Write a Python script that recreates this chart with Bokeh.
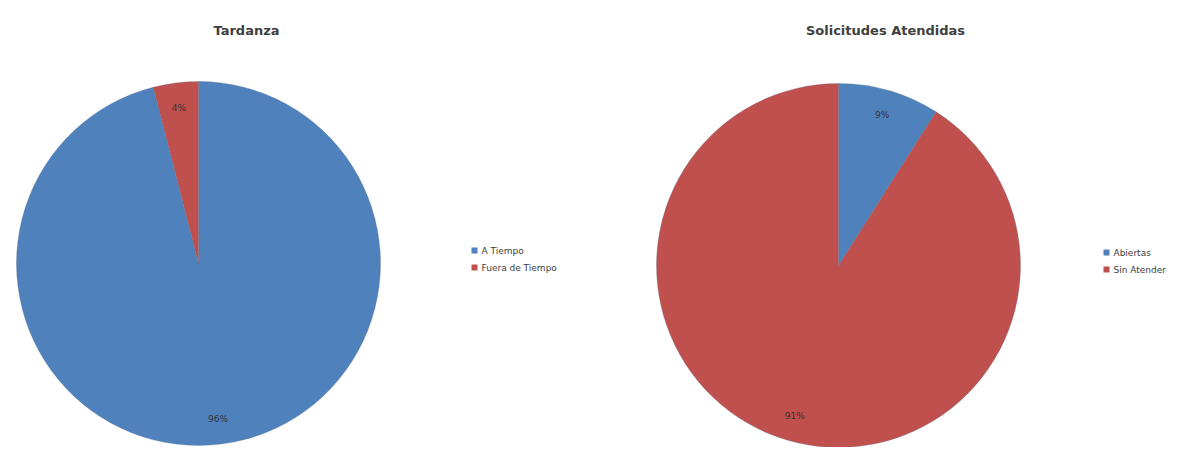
import math
from bokeh.plotting import figure
from bokeh.models import Range1d, ColumnDataSource
from bokeh.core.properties import value
from bokeh.embed import file_html
from bokeh.resources import INLINE

# ---- data ----
titles = ["Tardanza", "Solicitudes Atendidas"]
left_categories = ["A Tiempo", "Fuera de Tiempo"]
left_values = [96, 4]
right_categories = ["Abiertas", "Sin Atender"]
right_values = [9, 91]
colors = ["#4F81BD", "#C0504D"]

W, H = 1181, 447

def X(px):
    return px

def Y(py):
    return H - py

p = figure(width=W, height=H, output_backend="svg", toolbar_location=None,
           x_range=Range1d(0, W), y_range=Range1d(0, H),
           x_axis_location=None, y_axis_location=None, min_border=0)
p.outline_line_color = None
p.xgrid.visible = False
p.ygrid.visible = False
p.background_fill_color = "white"

FONT = value("DejaVu Sans")

def pie(cx, cy, r, cats, vals, title, tx, ty, lx, ly):
    total = float(sum(vals))
    start = 90.0
    starts, ends, lab_x, lab_y, labs = [], [], [], [], []
    for v in vals:
        sweep = v / total * 360.0
        end = start - sweep
        starts.append(math.radians(start))
        ends.append(math.radians(end))
        mid = math.radians(start - sweep / 2)
        lab_x.append(X(cx) + 0.86 * r * math.cos(mid))
        lab_y.append(Y(cy) + 0.86 * r * math.sin(mid))
        labs.append(f"{round(v / total * 100)}%")
        start = end
    src = ColumnDataSource(dict(s=starts, e=ends, c=colors[:len(vals)]))
    p.wedge(x=X(cx), y=Y(cy), radius=r, start_angle="s", end_angle="e",
            direction="clock", fill_color="c", line_color="#5a6f8a",
            line_width=0.6, line_alpha=0.5, source=src)
    p.text(x=lab_x, y=lab_y, text=labs, text_font=FONT, text_font_size="9px",
           text_color="#333333", text_align="center", text_baseline="middle")
    p.text(x=[X(tx)], y=[Y(ty)], text=[title], text_font=FONT,
           text_font_size="13px", text_font_style="bold", text_color="#404040",
           text_align="center", text_baseline="middle")
    # legend
    for i, cat in enumerate(cats):
        yy = Y(ly + i * 17)
        p.rect(x=[X(lx)], y=[yy], width=6, height=6, fill_color=colors[i],
               line_color=None)
        p.text(x=[X(lx) + 7], y=[yy], text=[cat], text_font=FONT,
               text_font_size="9px", text_color="#404040",
               text_align="left", text_baseline="middle")

pie(198, 263, 182, left_categories, left_values, titles[0], 246, 30, 474, 250)
pie(838, 265, 182, right_categories, right_values, titles[1], 885, 30, 1106, 252)

open("out.html", "w").write(file_html(p, INLINE))
